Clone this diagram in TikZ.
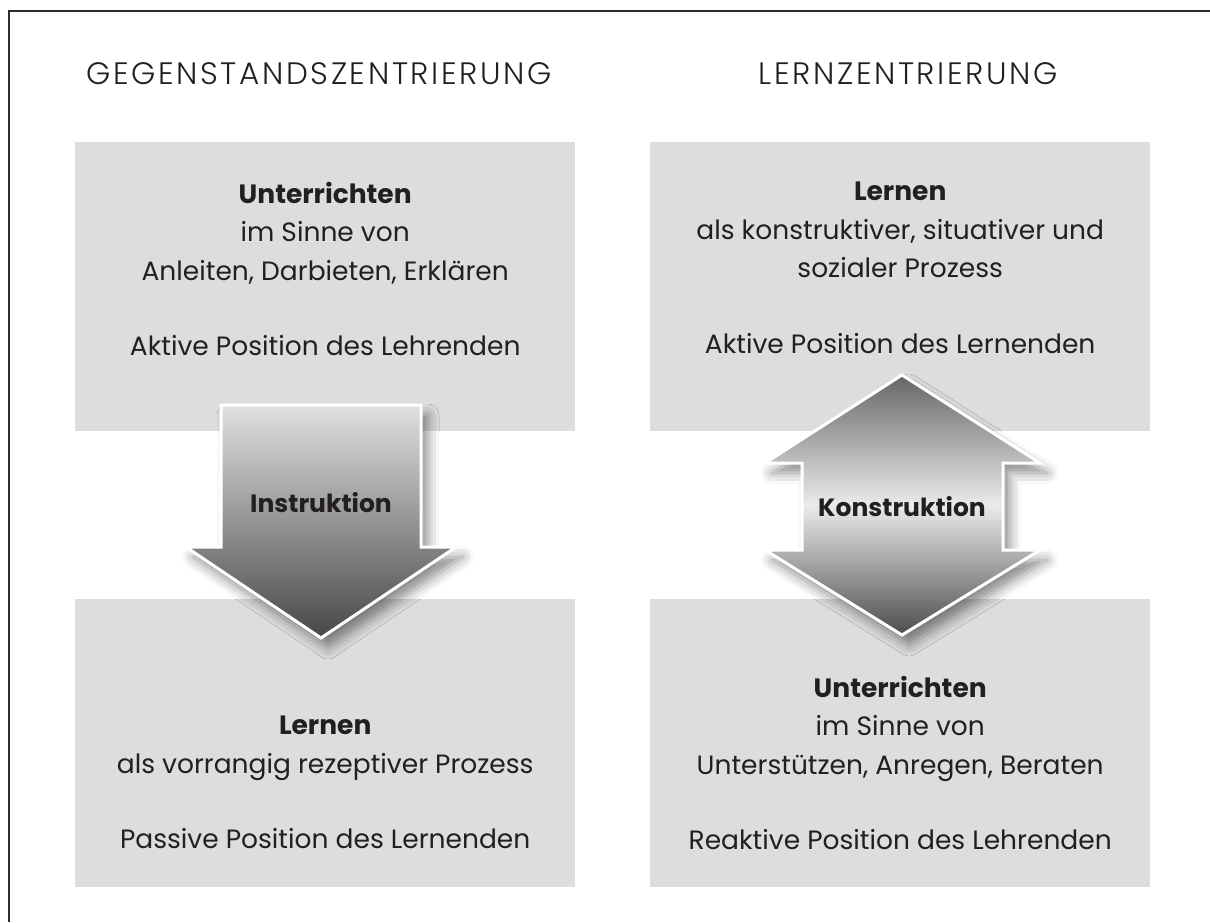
\documentclass[tikz,border=0pt]{standalone}
\usepackage{fontspec}
\setmainfont{Poppins}[Ligatures=NoCommon]
\newfontfamily\kopfschrift{Poppins Light}[LetterSpace=8.5]
\usepackage{tikz}
\usetikzlibrary{positioning}
\usetikzlibrary{shadows.blur}

\definecolor{feldgrau}{RGB}{220,221,223}
\definecolor{schrift}{RGB}{35,31,32}
\definecolor{rahmen}{RGB}{45,45,45}

\tikzset{
  feld/.style={fill=feldgrau, draw=none, minimum width=500pt, inner sep=0pt, anchor=north west},
  feldtext/.style={align=center, text=schrift, font=\fontsize{26.5}{38.5}\selectfont, inner sep=0pt, anchor=north},
  kopf/.style={text=schrift, font=\kopfschrift\fontsize{31}{36}\selectfont, inner sep=0pt, anchor=west},
  pfeil/.style={draw=white, line width=3pt, line join=miter,
    blur shadow={shadow xshift=7pt, shadow yshift=-10pt, shadow blur radius=11pt, shadow opacity=45}},
  pfeiltext/.style={text=schrift, font=\fontsize{25}{30}\selectfont\bfseries, inner sep=0pt}
}

\begin{document}
\begin{tikzpicture}[x=1pt,y=-1pt]
 \useasboundingbox (0,0) rectangle (1210,922);
 % Rahmen (rechts und unten abgeschnitten)
 \draw[rahmen, line width=2.5pt] (9,922) -- (9,11) -- (1210,11);

 \node[kopf] (gegenstand) at (86,74) {GEGENSTANDSZENTRIERUNG};
 \node[kopf, anchor=east] (lernzentr) at (1058,74) {LERNZENTRIERUNG};

 % Felder
 \node[feld, minimum height=289pt] (unterrichtenA) at (75,142) {};
 \node[feld, minimum height=289pt] (lernenB) at (650,142) {};
 \node[feld, minimum height=288pt] (lernenA) at (75,599) {};
 \node[feld, minimum height=288pt] (unterrichtenB) at (650,599) {};

 \node[feldtext, below=40pt of unterrichtenA.north] (unterrichtenAtext)
   {\textbf{Unterrichten}\\im Sinne von\\Anleiten, Darbieten, Erklären\\[37pt]Aktive Position des Lehrenden};
 \node[feldtext, below=40pt of lernenB.north] (lernenBtext)
   {\textbf{Lernen}\\als konstruktiver, situativer und\\sozialer Prozess\\[37pt]Aktive Position des Lernenden};
 \node[feldtext, below=117pt of lernenA.north] (lernenAtext)
   {\textbf{Lernen}\\als vorrangig rezeptiver Prozess\\[37pt]Passive Position des Lernenden};
 \node[feldtext, below=77pt of unterrichtenB.north] (unterrichtenBtext)
   {\textbf{Unterrichten}\\im Sinne von\\Unterstützen, Anregen, Beraten\\[37pt]Reaktive Position des Lehrenden};

 % Pfeile
 \draw[pfeil, top color=black!12, bottom color=black!72]
   (221,405) -- (421,405) -- (421,547) -- (456,547) -- (321,638) -- (186,547) -- (221,547) -- cycle;
 \node[pfeiltext] (instruktion) at (321,503) {Instruktion};

 \draw[pfeil, top color=black!60, bottom color=black!70, middle color=black!8]
   (902,375) -- (1040,463) -- (1003,463) -- (1003,550) -- (1040,550) -- (902,635)
   -- (765,550) -- (802,550) -- (802,463) -- (765,463) -- cycle;
 \node[pfeiltext] (konstruktion) at (902,507) {Konstruktion};
\end{tikzpicture}
\end{document}
